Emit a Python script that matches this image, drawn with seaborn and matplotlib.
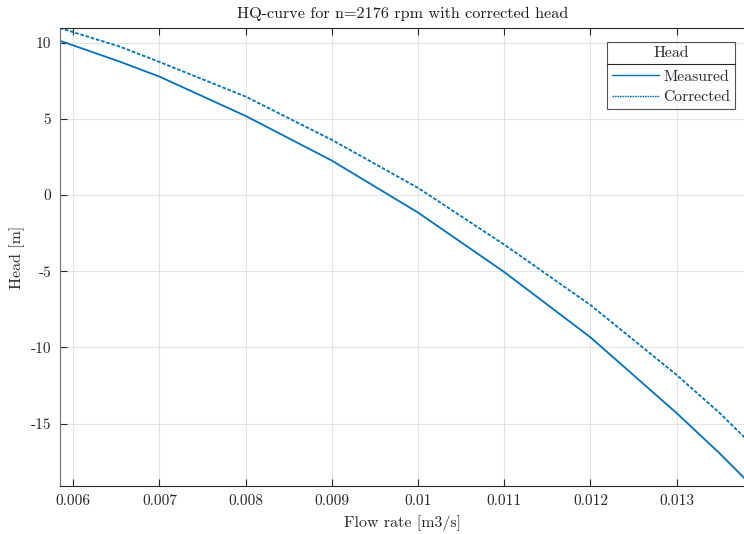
import numpy as np
import pandas as pd
import matplotlib
matplotlib.use("Agg")
import matplotlib.pyplot as plt
import seaborn as sns
from matplotlib.lines import Line2D

flow = [0.005842, 0.00654, 0.007, 0.008, 0.009, 0.010, 0.011, 0.012, 0.013, 0.0135, 0.0138]
head_measured = [10.13, 8.75, 7.77, 5.19, 2.26, -1.15, -5.05, -9.33, -14.3, -16.95, -18.65]
head_corrected = [10.96, 9.74, 8.73, 6.46, 3.62, 0.47, -3.25, -7.21, -11.8, -14.3, -15.96]
xticks = [0.006, 0.007, 0.008, 0.009, 0.01, 0.011, 0.012, 0.013]
xticklabels = ["0.006", "0.007", "0.008", "0.009", "0.01", "0.011", "0.012", "0.013"]
yticks = [-15, -10, -5, 0, 5, 10]

sns.set_style("white")
plt.rcParams["font.family"] = ["cmr10", "DejaVu Serif"]
plt.rcParams["axes.unicode_minus"] = False
plt.rcParams["mathtext.fontset"] = "cm"

color = "#0072BD"
fig = plt.figure(figsize=(7.44, 5.34), dpi=100)
ax = fig.add_axes([59.7 / 744, 48 / 534, (745.5 - 59.7) / 744, (486 - 28) / 534])

df = pd.DataFrame({"flow": flow, "measured": head_measured, "corrected": head_corrected})
sns.lineplot(data=df, x="flow", y="measured", ax=ax, color=color, lw=1.3,
             label="Measured", sort=False)
sns.lineplot(data=df, x="flow", y="corrected", ax=ax, color=color, lw=1.3,
             linestyle=(0, (2, 1)), label="Corrected", sort=False)

ax.set_xlim(0.005842, 0.0138)
ax.set_ylim(-19.09, 10.96)
ax.set_xticks(xticks)
ax.set_xticklabels(xticklabels)
ax.set_yticks(yticks)
ax.set_yticklabels([str(t) for t in yticks])

ax.grid(True, color="#e3e3e3", lw=0.8)
ax.set_axisbelow(True)
for s in ax.spines.values():
    s.set_color("#262626")
    s.set_linewidth(0.8)
ax.spines["left"].set_color("#707070")
ax.spines["right"].set_visible(False)
ax.tick_params(direction="in", length=5, width=0.8, colors="#262626",
               labelsize=11, top=True, right=False, bottom=True, left=True, pad=6)

ax.set_title("HQ-curve for n=2176 rpm with corrected head", fontsize=11.7, color="#1a1a1a", pad=7)
ax.set_xlabel("Flow rate [m3/s]", fontsize=11.5, color="#262626", labelpad=5)
ax.set_ylabel("Head [m]", fontsize=11.5, color="#262626", labelpad=4)

handles = [Line2D([], [], color=color, lw=1.0),
           Line2D([], [], color=color, lw=1.0, linestyle=(0, (1.2, 0.6)))]
leg = ax.legend(handles, ["Measured", "Corrected"], title="Head", loc="upper right",
                bbox_to_anchor=(735 / 744, (534 - 41.7) / 534), bbox_transform=fig.transFigure,
                fancybox=False, frameon=True, fontsize=11.3, title_fontsize=11.3,
                handlelength=3.05, handletextpad=0.25, borderpad=0.3, labelspacing=0.4,
                borderaxespad=0)
leg._legend_box.sep = 7
leg.get_frame().set_edgecolor("#262626")
leg.get_frame().set_linewidth(0.8)

fig.canvas.draw()
bb = leg.get_window_extent()
ysep = 534 - 64.3
fig.add_artist(Line2D([bb.x0 / 744, bb.x1 / 744], [ysep / 534, ysep / 534],
                      transform=fig.transFigure, color="#262626", lw=0.8))

fig.savefig("out.png", dpi=100)
